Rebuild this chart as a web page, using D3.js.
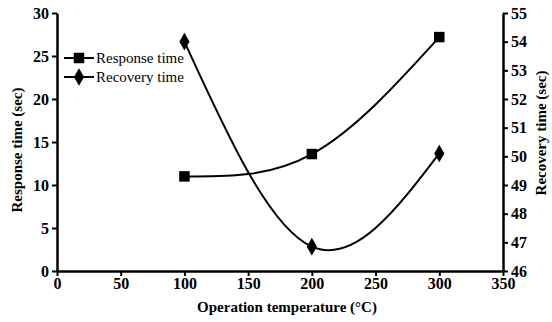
<!DOCTYPE html>
<html>
<head>
<meta charset="utf-8">
<script src="https://cdn.jsdelivr.net/npm/d3@7"></script>
<style>
  body { margin: 0; background: #fff; }
  svg text { font-family: "Liberation Serif", "Times New Roman", serif !important; }
</style>
</head>
<body>
<div id="chart"></div>
<script>
/* Response / recovery time vs operation temperature */

const temperatures = [100, 200, 300];
const responseTime = [11.0, 13.6, 27.2];
const recoveryTime = [54.0, 46.85, 50.1];

const xTicks = [0, 50, 100, 150, 200, 250, 300, 350];
const yLeftTicks = [0, 5, 10, 15, 20, 25, 30];
const yRightTicks = [46, 47, 48, 49, 50, 51, 52, 53, 54, 55];

const width = 552;
const height = 322;
const margin = { top: 13, right: 49, bottom: 51, left: 57 };

const svg = d3.select('#chart')
  .append('svg')
  .attr('width', width)
  .attr('height', height);

const x = d3.scaleLinear().domain([0, 350]).range([margin.left, width - margin.right]);
const yL = d3.scaleLinear().domain([0, 30]).range([height - margin.bottom, margin.top]);
const yR = d3.scaleLinear().domain([46, 55]).range([height - margin.bottom, margin.top]);

// Axes
const styleAxis = (g) => {
  g.selectAll('path.domain').attr('stroke', '#000').attr('stroke-width', 2.5);
  g.selectAll('.tick line').attr('stroke', '#000').attr('stroke-width', 2);
  g.selectAll('.tick text')
    .attr('fill', '#000')
    .attr('font-size', 16)
    .attr('font-weight', 'bold');
};

svg.append('g')
  .attr('transform', `translate(0,${height - margin.bottom})`)
  .call(d3.axisBottom(x).tickValues(xTicks).tickSize(5).tickSizeOuter(0).tickPadding(2))
  .call(styleAxis);

svg.append('g')
  .attr('transform', `translate(${margin.left},0)`)
  .call(d3.axisLeft(yL).tickValues(yLeftTicks).tickSize(5).tickSizeOuter(0).tickPadding(3))
  .call(styleAxis);

svg.append('g')
  .attr('transform', `translate(${width - margin.right},0)`)
  .call(d3.axisRight(yR).tickValues(yRightTicks).tickSize(5).tickSizeOuter(0).tickPadding(3))
  .call(styleAxis);

// Axis titles
svg.append('text')
  .attr('x', 287)
  .attr('y', height - 10)
  .attr('text-anchor', 'middle')
  .attr('font-size', 15)
  .attr('font-weight', 'bold')
  .text('Operation temperature (\u00B0C)');

svg.append('text')
  .attr('transform', 'translate(22,150) rotate(-90)')
  .attr('text-anchor', 'middle')
  .attr('font-size', 15)
  .attr('font-weight', 'bold')
  .text('Response time (sec)');

svg.append('text')
  .attr('transform', 'translate(546,133) rotate(-90)')
  .attr('text-anchor', 'middle')
  .attr('font-size', 15)
  .attr('font-weight', 'bold')
  .text('Recovery time (sec)');

// Curves
const respPts = temperatures.map((t, i) => [t, responseTime[i]]);
const recPts = temperatures.map((t, i) => [t, recoveryTime[i]]);

const respLine = d3.line().x(d => x(d[0])).y(d => yL(d[1])).curve(d3.curveNatural);
const recLine = d3.line().x(d => x(d[0])).y(d => yR(d[1])).curve(d3.curveNatural);

svg.append('path').datum(respPts)
  .attr('d', respLine)
  .attr('fill', 'none').attr('stroke', '#000').attr('stroke-width', 2);

svg.append('path').datum(recPts)
  .attr('d', recLine)
  .attr('fill', 'none').attr('stroke', '#000').attr('stroke-width', 2);

// Markers
const square = d3.symbol().type(d3.symbolSquare).size(110);
const diamond = d3.symbol().type(d3.symbolDiamond).size(90);

svg.append('g').selectAll('path')
  .data(respPts)
  .join('path')
  .attr('d', square)
  .attr('transform', d => `translate(${x(d[0])},${yL(d[1])})`)
  .attr('fill', '#000');

svg.append('g').selectAll('path')
  .data(recPts)
  .join('path')
  .attr('d', diamond)
  .attr('transform', d => `translate(${x(d[0])},${yR(d[1])})`)
  .attr('fill', '#000');

// Legend
const legendItems = [
  { label: 'Response time', symbol: square, y: 58 },
  { label: 'Recovery time', symbol: diamond, y: 77 },
];
const legend = svg.append('g');
legendItems.forEach(item => {
  legend.append('line')
    .attr('x1', 64).attr('x2', 94)
    .attr('y1', item.y).attr('y2', item.y)
    .attr('stroke', '#000').attr('stroke-width', 2);
  legend.append('path')
    .attr('d', item.symbol)
    .attr('transform', `translate(79,${item.y})`)
    .attr('fill', '#000');
  legend.append('text')
    .attr('x', 96).attr('y', item.y + 5)
    .attr('font-size', 15)
    .text(item.label);
});
</script>
</body>
</html>
